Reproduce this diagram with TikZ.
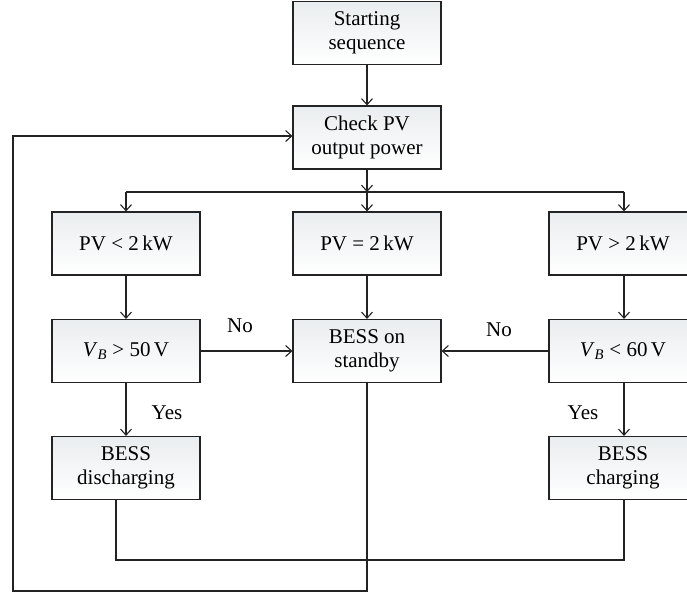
\documentclass[tikz,border=0pt]{standalone}
\usepackage{fontspec}
\setmainfont{Liberation Serif}
\usetikzlibrary{arrows.meta}
\definecolor{ln}{RGB}{35,35,35}
\definecolor{boxtop}{RGB}{234,237,239}
\begin{document}
\begin{tikzpicture}[x=1pt,y=-1pt,
  box/.style={draw=ln,line width=1.2pt,minimum width=148pt,minimum height=63pt,
    top color=boxtop,bottom color=white,align=center,font=\fontsize{21}{24}\selectfont,inner sep=0pt},
  lbl/.style={font=\fontsize{21}{24}\selectfont,inner sep=0pt},
  conn/.style={draw=ln,line width=1.2pt},
  arr/.style={conn,-{Straight Barb[length=6pt,width=11pt,line width=1.1pt]}}]
\useasboundingbox (0,0) rectangle (687,595);
\node[box] (start) at (367,33) {Starting\\sequence};
\node[box] (check) at (367,137.5) {Check PV\\output power};
\node[box] (pvl) at (126,243.5) {PV {<} 2\,kW};
\node[box] (pve) at (367,243.5) {PV {=} 2\,kW};
\node[box] (pvg) at (623,243.5) {PV {>} 2\,kW};
\node[box] (vb50) at (126,351) {\textit{V}\textsubscript{\textit{B}} {>} 50\,V};
\node[box] (stby) at (367,351) {BESS on\\standby};
\node[box] (vb60) at (623,351) {\textit{V}\textsubscript{\textit{B}} {<} 60\,V};
\node[box] (dis) at (126,468) {BESS\\discharging};
\node[box] (chg) at (623,468) {BESS\\charging};
\coordinate (bl) at (126,192);
\coordinate (bm) at (367,192);
\coordinate (br) at (624,192);
\coordinate (l1) at (367,591);
\coordinate (l2) at (13,591);
\coordinate (l3) at (13,136);
\coordinate (d1) at (116,560);
\coordinate (d2) at (624,560);
\draw[arr] (start) -- (check);
\draw[arr] (check.south) -- (bm);
\draw[conn] (bl) -- (br);
\draw[arr] (bl) -- (pvl.north);
\draw[arr] (bm) -- (pve.north);
\draw[arr] (br) -- (pvg.north -| br);
\draw[arr] (pvl) -- (vb50);
\draw[arr] (pve) -- (stby);
\draw[arr] (pvg.south -| br) -- (vb60.north -| br);
\draw[arr] (vb50) -- (stby);
\draw[arr] (vb60) -- (stby);
\draw[arr] (vb50) -- (dis);
\draw[arr] (vb60.south -| br) -- (chg.north -| br);
\draw[conn] (dis.south -| d1) -- (d1) -- (d2) -- (chg.south -| d2);
\draw[arr] (stby.south) -- (l1) -- (l2) -- (l3) -- (check.west |- l3);
\node[lbl] (no1) at (240,326) {No};
\node[lbl] (no2) at (499,330) {No};
\node[lbl] (yes1) at (167,413) {Yes};
\node[lbl] (yes2) at (583,413) {Yes};
\end{tikzpicture}
\end{document}
